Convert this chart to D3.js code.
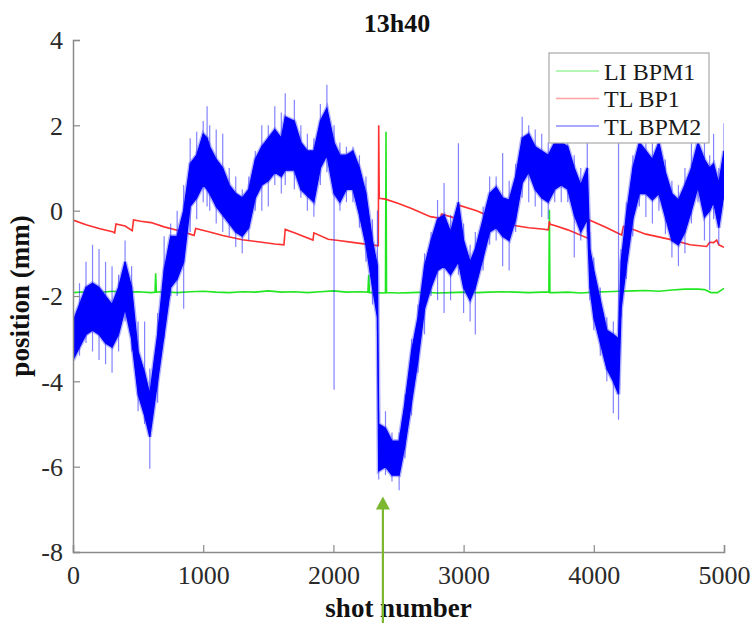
<!DOCTYPE html>
<html>
<head>
<meta charset="utf-8">
<script src="https://cdn.jsdelivr.net/npm/d3@7"></script>
<style>
  html, body { margin: 0; padding: 0; background: #fff; }
  svg { display: block; }
  text { font-family: "Liberation Serif", "Times New Roman", serif; }
</style>
</head>
<body>
<svg id="chart" width="756" height="623"></svg>
<script>
// ---------------- DATA ----------------
const title = "13h40";
const xLabel = "shot number";
const yLabel = "position (mm)";
const xTicks = [0, 1000, 2000, 3000, 4000, 5000];
const yTicks = [-8, -6, -4, -2, 0, 2, 4];
const seriesNames = ["LI BPM1", "TL BP1", "TL BPM2"];

// LI BPM1 (green)
const greenX = [0, 100, 200, 300, 400, 500, 600, 630, 635, 640, 700, 800, 900, 1000, 1100, 1200, 1300, 1400, 1500, 1600, 1700, 1800, 1900, 2000, 2100, 2200, 2265, 2271, 2277, 2300, 2400, 2404, 2408, 2500, 2600, 2700, 2800, 2900, 3000, 3100, 3200, 3300, 3400, 3500, 3600, 3655, 3659, 3663, 3700, 3800, 3900, 4000, 4100, 4200, 4300, 4400, 4500, 4600, 4700, 4800, 4850, 4900, 4950, 5000];
const greenY = [-1.92, -1.90, -1.92, -1.89, -1.91, -1.90, -1.92, -1.91, -1.47, -1.91, -1.90, -1.92, -1.90, -1.89, -1.91, -1.92, -1.90, -1.91, -1.88, -1.91, -1.90, -1.92, -1.90, -1.88, -1.91, -1.90, -1.91, -1.50, -1.92, -1.92, -1.93, 1.85, -1.92, -1.93, -1.92, -1.91, -1.93, -1.92, -1.91, -1.92, -1.91, -1.90, -1.91, -1.92, -1.91, -1.91, 0.02, -1.92, -1.92, -1.91, -1.93, -1.91, -1.90, -1.89, -1.88, -1.87, -1.89, -1.86, -1.84, -1.84, -1.85, -1.92, -1.92, -1.82];

// TL BP1 (red)
const redX = [0, 100, 200, 310, 320, 330, 400, 455, 465, 520, 600, 700, 800, 900, 930, 942, 1050, 1150, 1300, 1450, 1550, 1620, 1630, 1700, 1843, 1850, 1960, 2040, 2160, 2335, 2345, 2348, 2352, 2400, 2500, 2600, 2745, 2822, 2830, 2942, 2955, 2962, 3100, 3250, 3377, 3500, 3600, 3651, 3658, 3665, 3700, 3800, 3958, 3966, 4100, 4214, 4227, 4278, 4400, 4611, 4739, 4867, 4890, 4920, 4944, 4960, 5000];
const redY = [-0.22, -0.33, -0.42, -0.50, -0.52, -0.31, -0.36, -0.47, -0.22, -0.25, -0.28, -0.38, -0.46, -0.55, -0.58, -0.42, -0.50, -0.58, -0.68, -0.74, -0.78, -0.80, -0.44, -0.52, -0.69, -0.52, -0.67, -0.70, -0.75, -0.82, -0.82, 2.0, 0.29, 0.27, 0.17, 0.05, -0.14, -0.18, -0.08, -0.18, -0.18, 0.13, 0.0, -0.20, -0.34, -0.40, -0.43, -0.45, -0.25, -0.32, -0.35, -0.45, -0.65, -0.22, -0.40, -0.57, -0.37, -0.41, -0.55, -0.69, -0.80, -0.84, -0.74, -0.75, -0.69, -0.80, -0.86];

// TL BPM2 (blue): dense core band and spike extremes
const blueX = [0, 50, 100, 150, 200, 250, 300, 350, 400, 450, 500, 550, 590, 650, 700, 750, 800, 850, 900, 950, 1000, 1030, 1050, 1100, 1150, 1200, 1250, 1300, 1350, 1400, 1450, 1500, 1550, 1600, 1630, 1700, 1750, 1800, 1850, 1900, 1950, 2005, 2050, 2100, 2150, 2200, 2250, 2300, 2338, 2348, 2400, 2450, 2505, 2550, 2600, 2650, 2700, 2750, 2800, 2850, 2900, 2960, 3000, 3050, 3090, 3150, 3200, 3250, 3300, 3350, 3400, 3450, 3500, 3550, 3600, 3650, 3700, 3750, 3800, 3850, 3900, 3950, 3970, 4000, 4050, 4100, 4150, 4190, 4210, 4250, 4300, 4350, 4400, 4450, 4500, 4550, 4600, 4650, 4700, 4750, 4800, 4850, 4890, 4920, 4960, 5000];
const blueCoreLo = [-3.5, -3.2, -2.9, -2.8, -2.9, -3.1, -3.2, -2.9, -2.3, -3.0, -4.3, -4.8, -5.3, -4.0, -2.9, -1.8, -1.6, -1.2, 0.1, 0.3, 0.6, 0.5, 0.4, 0.1, -0.1, -0.3, -0.5, -0.6, -0.4, 0.3, 0.6, 0.7, 0.9, 0.8, 0.95, 0.95, 0.5, 0.35, 0.2, 1.0, 1.3, 0.4, 0.2, 0.5, 0.5, -0.1, -0.8, -1.8, -2.5, -6.1, -6.0, -6.2, -6.2, -5.5, -4.5, -3.5, -2.3, -1.8, -1.4, -1.3, -1.5, -1.2, -1.8, -2.1, -1.8, -1.1, -0.5, -0.4, -0.6, -0.7, -0.2, 0.65, 0.9, 0.5, 0.3, 0.2, 0.5, 0.6, 0.5, -0.1, -0.5, -0.2, -1.8, -2.5, -3.1, -3.7, -4.0, -4.3, -2.3, -1.3, -0.2, 0.4, 0.4, 0.25, 0.4, -0.15, -0.7, -0.8, -0.5, 0.0, 0.55, -0.15, 0.0, 0.2, -0.4, 0.4];
const blueCoreHi = [-2.6, -2.2, -1.8, -1.7, -1.8, -2.0, -2.2, -1.8, -1.2, -1.8, -3.3, -3.8, -4.3, -2.9, -1.4, -0.6, -0.6, 0.0, 1.1, 1.3, 1.8, 1.7, 1.5, 1.2, 1.0, 0.6, 0.4, 0.3, 0.5, 1.2, 1.5, 1.7, 1.9, 1.7, 2.2, 2.1, 1.6, 1.4, 1.4, 2.1, 2.4, 1.6, 1.3, 1.3, 1.4, 1.0, 0.4, -0.7, -1.3, -5.0, -5.1, -5.4, -5.4, -4.5, -3.3, -2.5, -1.3, -0.7, -0.2, -0.1, -0.5, 0.2, -0.7, -1.2, -0.9, -0.2, 0.4, 0.55, 0.3, 0.25, 0.8, 1.7, 1.8, 1.5, 1.4, 1.3, 1.6, 1.6, 1.5, 1.0, 0.6, 1.0, -0.9, -1.4, -2.1, -2.8, -2.9, -3.0, -1.2, -0.1, 1.0, 1.6, 1.4, 1.2, 1.6, 0.9, 0.4, 0.25, 0.6, 1.0, 1.6, 1.2, 1.0, 1.1, 0.64, 1.4];
const blueSpikeLo = [-3.7, -3.4, -3.1, -3.3, -3.5, -3.6, -3.8, -3.3, -2.6, -3.3, -4.7, -5.0, -6.05, -4.5, -3.0, -2.0, -2.0, -2.3, -0.5, -0.2, 0.2, 0.1, 0.0, -0.3, -0.5, -0.6, -0.85, -1.0, -0.7, 0.0, 0.0, 0.1, 0.6, 0.4, 0.6, 0.5, 0.3, 0.0, -0.14, 0.6, 0.9, -4.2, 0.0, 0.2, 0.2, -0.4, -1.2, -2.2, -2.8, -6.3, -6.2, -6.35, -6.55, -5.8, -4.8, -3.8, -2.9, -2.0, -2.1, -2.4, -2.1, -1.5, -2.4, -2.6, -2.9, -1.4, -0.8, -0.7, -1.3, -1.4, -0.5, 0.3, 0.2, 0.1, -0.15, -0.2, 0.2, 0.2, 0.2, -1.1, -0.7, -0.5, -2.1, -2.8, -3.4, -4.0, -4.75, -4.9, -2.5, -1.6, -0.6, 0.1, -0.15, -0.3, 0.0, -0.55, -1.1, -1.3, -1.0, -0.3, 0.2, -0.7, -1.86, -0.2, -0.8, 0.25];
const blueSpikeHi = [-2.4, -1.7, -1.2, -0.8, -0.9, -1.2, -1.3, -1.5, -0.7, -1.3, -2.6, -2.6, -3.7, -2.4, -0.6, -0.3, 0.0, 0.6, 1.7, 1.85, 2.1, 2.45, 2.0, 1.9, 1.8, 1.0, 0.8, 0.5, 0.8, 1.4, 2.0, 2.0, 2.45, 2.3, 2.75, 2.6, 2.0, 1.8, 1.7, 2.5, 2.95, 2.0, 1.6, 1.5, 1.5, 1.3, 0.8, -0.2, 0.0, -4.7, -4.7, -5.2, -5.2, -4.3, -3.0, -2.2, -1.0, -0.5, 0.25, 0.65, -0.1, 1.58, -0.3, -0.8, -0.5, 0.1, 0.8, 0.8, 1.35, 0.7, 1.1, 2.2, 2.0, 1.9, 1.8, 1.6, 1.9, 2.0, 1.9, 1.3, 1.0, 1.7, -0.5, -1.1, -1.8, -2.5, -2.6, 1.6, -0.9, 0.2, 1.3, 1.8, 1.7, 1.6, 1.9, 1.2, 0.7, 0.6, 1.0, 1.6, 1.9, 1.6, 1.3, 1.8, 1.0, 2.05];

// Annotation arrow (points at the jump)
const arrowShot = 2380;
const arrowTipValue = -6.7;

// ---------------- LAYOUT ----------------
const svg = d3.select("#chart");
const mLeft = 73, mRight = 724, mTop = 40, mBottom = 552;
const x = d3.scaleLinear().domain([0, 5000]).range([mLeft, mRight]);
const y = d3.scaleLinear().domain([-8, 4]).range([mBottom, mTop]);

const green = "#22e622", red = "#ff3030", blue = "#0000ff";

svg.append("defs").append("clipPath").attr("id", "clip")
  .append("rect").attr("x", mLeft).attr("y", mTop).attr("width", mRight - mLeft).attr("height", mBottom - mTop);

const plot = svg.append("g").attr("clip-path", "url(#clip)");

// green
const gData = greenX.map((d, i) => [d, greenY[i]]);
plot.append("path").datum(gData)
  .attr("fill", "none").attr("stroke", green).attr("stroke-width", 1.6)
  .attr("d", d3.line().x(d => x(d[0])).y(d => y(d[1])));

// red
const rData = redX.map((d, i) => [d, redY[i]]);
plot.append("path").datum(rData)
  .attr("fill", "none").attr("stroke", red).attr("stroke-width", 1.6)
  .attr("d", d3.line().x(d => x(d[0])).y(d => y(d[1])));

// blue
const bData = blueX.map((d, i) => ({x: d, lo: blueCoreLo[i], hi: blueCoreHi[i], slo: blueSpikeLo[i], shi: blueSpikeHi[i]}));
// light spikes: one vertical needle per sample
plot.append("g").selectAll("line").data(bData).join("line")
  .attr("x1", d => x(d.x)).attr("x2", d => x(d.x))
  .attr("y1", d => y(d.slo)).attr("y2", d => y(d.shi))
  .attr("stroke", "#3030ff").attr("stroke-opacity", 0.6).attr("stroke-width", 1.2);
// fuzzy halo of the core
const coreArea = d3.area().x(d => x(d.x)).y0(d => y(d.lo)).y1(d => y(d.hi));
plot.append("path").datum(bData)
  .attr("fill", "none").attr("stroke", "#4040ff").attr("stroke-width", 4).attr("stroke-opacity", 0.4)
  .attr("d", coreArea);
// dense core
plot.append("path").datum(bData)
  .attr("fill", blue).attr("stroke", blue).attr("stroke-width", 1.2)
  .attr("d", coreArea);

// axes
const axisColor = "#8a8a8a";
const gx = svg.append("g").attr("transform", `translate(0,${mBottom})`)
  .call(d3.axisBottom(x).tickValues(xTicks).tickSize(-7).tickPadding(14).tickFormat(d3.format("d")));
const gy = svg.append("g").attr("transform", `translate(${mLeft},0)`)
  .call(d3.axisLeft(y).tickValues(yTicks).tickSize(-7).tickPadding(10).tickFormat(d => d));
[gx, gy].forEach(g => {
  g.select(".domain").attr("stroke", axisColor).attr("stroke-width", 1.5);
  g.selectAll(".tick line").attr("stroke", axisColor).attr("stroke-width", 1.2);
  g.selectAll(".tick text").attr("fill", "#2a2a2a").style("font-size", "26px")
    .style("font-family", '"Liberation Serif", "Times New Roman", serif');
});
gx.selectAll(".tick text").attr("dy", "0.71em");
gy.selectAll(".tick text").attr("dy", "0.34em");

// title and labels
svg.append("text").attr("x", 397).attr("y", 32).attr("text-anchor", "middle")
  .style("font-size", "26px").style("font-weight", "bold").attr("fill", "#111").text(title);
svg.append("text").attr("x", (mLeft + mRight) / 2).attr("y", 617).attr("text-anchor", "middle")
  .style("font-size", "27px").style("font-weight", "bold").attr("fill", "#111").text(xLabel);
svg.append("text").attr("transform", `translate(29,${(mTop + mBottom) / 2}) rotate(-90)`).attr("text-anchor", "middle")
  .style("font-size", "27px").style("font-weight", "bold").attr("fill", "#111").text(yLabel);

// legend
const lg = svg.append("g");
lg.append("rect").attr("x", 549).attr("y", 53).attr("width", 160).attr("height", 90)
  .attr("fill", "#fff").attr("stroke", "#a8a8a8").attr("stroke-width", 1.2);
const legendColors = [green, red, blue];
seriesNames.forEach((name, i) => {
  const cy = 71 + i * 27.5;
  lg.append("line").attr("x1", 556).attr("x2", 599).attr("y1", cy).attr("y2", cy)
    .attr("stroke", legendColors[i]).attr("stroke-opacity", 0.45).attr("stroke-width", 1.6);
  lg.append("text").attr("x", 604).attr("y", cy + 8.5).style("font-size", "24px").attr("fill", "#1a1a1a").text(name);
});

// arrow annotation
const ax = x(arrowShot), ay = y(arrowTipValue);
svg.append("line").attr("x1", ax).attr("x2", ax).attr("y1", 623).attr("y2", ay + 12)
  .attr("stroke", "#7cb82f").attr("stroke-width", 2.2);
svg.append("path").attr("d", `M${ax},${ay}L${ax - 7},${ay + 13}L${ax + 7},${ay + 13}Z`).attr("fill", "#7cb82f");
</script>
</body>
</html>
